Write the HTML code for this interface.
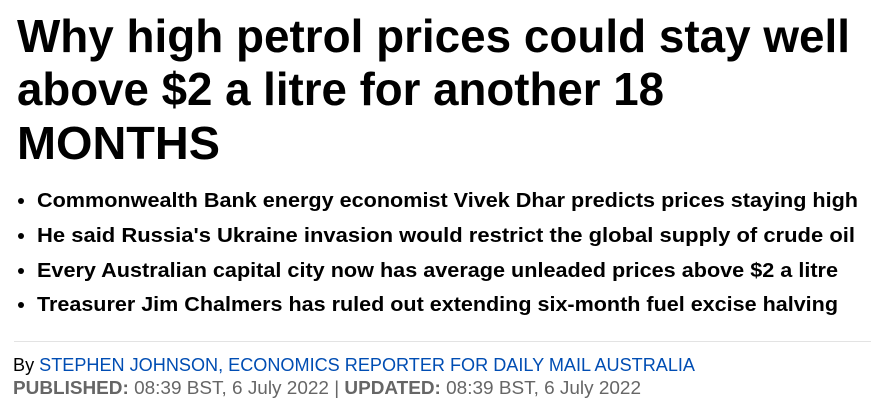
<!DOCTYPE html>
<html><head><meta charset="utf-8"><style>
html,body{margin:0;padding:0;background:#fff;width:871px;height:407px;overflow:hidden;font-family:"Liberation Sans",sans-serif}
.fit{position:absolute;white-space:nowrap;transform-origin:0 0;display:inline-block}
h1{margin:0}
.h{font-weight:bold;font-size:46px;color:#000;line-height:46px}
.b{font-weight:bold;font-size:20px;color:#000;line-height:22px}
.dot{position:absolute;width:6px;height:6px;border-radius:50%;background:#000;left:18px}
.m{font-size:18px;line-height:20px;color:#000}
.blue{color:#004db3}
.grey{color:#666}
</style></head><body>
<h1>
<span class="fit h" data-w="833" style="left:17px;top:13px">Why high petrol prices could stay well</span>
<span class="fit h" data-w="647" style="left:17px;top:66px">above $2 a litre for another 18</span>
<span class="fit h" data-w="203" style="left:17px;top:120px">MONTHS</span>
</h1>
<ul style="margin:0;padding:0;list-style:none">
<li><span class="dot" style="top:198px"></span><span class="fit b" data-w="821" style="left:37px;top:190px">Commonwealth Bank energy economist Vivek Dhar predicts prices staying high</span></li>
<li><span class="dot" style="top:233px"></span><span class="fit b" data-w="818" style="left:37px;top:225px">He said Russia's Ukraine invasion would restrict the global supply of crude oil</span></li>
<li><span class="dot" style="top:268px"></span><span class="fit b" data-w="801" style="left:37px;top:260px">Every Australian capital city now has average unleaded prices above $2 a litre</span></li>
<li><span class="dot" style="top:302px"></span><span class="fit b" data-w="801" style="left:37px;top:294px">Treasurer Jim Chalmers has ruled out extending six-month fuel excise halving</span></li>
</ul>
<div style="position:absolute;left:14px;right:0;top:341px;height:1px;background:#e3e3e3"></div>
<div class="fit m" data-w="682" style="left:13px;top:355px">By <a class="blue" style="text-decoration:none">STEPHEN JOHNSON, ECONOMICS REPORTER FOR DAILY MAIL AUSTRALIA</a></div>
<div class="fit m grey" data-w="628" style="left:13px;top:378px"><b>PUBLISHED:</b> 08:39 BST, 6 July 2022 | <b>UPDATED:</b> 08:39 BST, 6 July 2022</div>
<script>
document.querySelectorAll('.fit').forEach(function(el){
  var w=+el.getAttribute('data-w');var a=el.getBoundingClientRect().width;
  if(w&&a)el.style.transform='scaleX('+(w/a)+')';
});
</script>
</body></html>
